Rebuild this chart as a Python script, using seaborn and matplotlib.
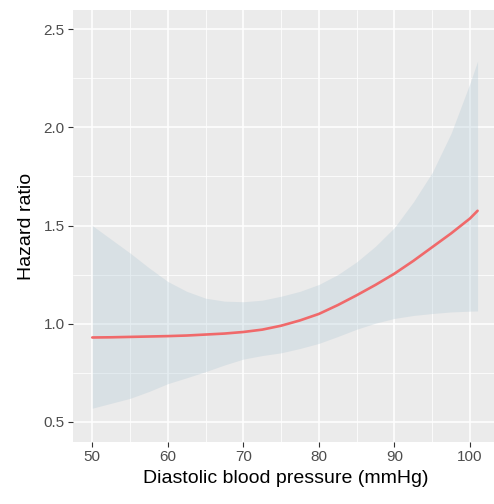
import numpy as np
import pandas as pd
import matplotlib
matplotlib.use("Agg")
import matplotlib.pyplot as plt
import seaborn as sns

# Data
dbp = [50, 52.5, 55, 57.5, 60, 62.5, 65, 67.5, 70, 72.5, 75, 77.5, 80,
       82.5, 85, 87.5, 90, 92.5, 95, 97.5, 100, 101]
hr = [0.93, 0.931, 0.933, 0.935, 0.937, 0.94, 0.945, 0.95, 0.958, 0.97,
      0.99, 1.017, 1.05, 1.095, 1.145, 1.198, 1.255, 1.32, 1.39, 1.46,
      1.536, 1.575]
hr_upper = [1.50, 1.43, 1.36, 1.285, 1.215, 1.165, 1.13, 1.115, 1.112,
            1.12, 1.14, 1.165, 1.20, 1.25, 1.315, 1.395, 1.49, 1.62, 1.77,
            1.97, 2.225, 2.337]
hr_lower = [0.57, 0.595, 0.62, 0.655, 0.695, 0.725, 0.756, 0.79, 0.82,
            0.838, 0.852, 0.874, 0.90, 0.935, 0.972, 1.003, 1.027, 1.042,
            1.052, 1.06, 1.064, 1.065]
x_ticks = [50, 60, 70, 80, 90, 100]
y_ticks = [0.5, 1.0, 1.5, 2.0, 2.5]
y_ticklabels = ["0.5", "1.0", "1.5", "2.0", "2.5"]

df = pd.DataFrame({"dbp": dbp, "hr": hr, "lo": hr_lower, "hi": hr_upper})

sns.set_theme(style="darkgrid")
plt.rcParams["font.family"] = ["Liberation Sans", "DejaVu Sans"]

fig = plt.figure(figsize=(4.94, 5.04), dpi=100)
W, H = 494, 504
left, right, top, bottom = 73, 497.6, 10, 442
ax = fig.add_axes([left / W, 1 - bottom / H, (right - left) / W, (bottom - top) / H])
ax.set_facecolor("#EBEBEB")

ax.fill_between(df["dbp"], df["lo"], df["hi"], color="#B4CAD6", alpha=0.33,
                linewidth=0, zorder=2)
sns.lineplot(data=df, x="dbp", y="hr", ax=ax, color="#F0696A", linewidth=1.9,
             zorder=3)

ax.set_xlim(47.45, 103.65)
ax.set_ylim(0.398, 2.597)
ax.set_xticks(x_ticks)
ax.set_xticklabels([str(t) for t in x_ticks])
ax.set_yticks(y_ticks)
ax.set_yticklabels(y_ticklabels)
ax.set_xticks([55, 65, 75, 85, 95], minor=True)
ax.set_yticks([0.75, 1.25, 1.75, 2.25], minor=True)

ax.grid(which="major", color="white", linewidth=1.1, zorder=1)
ax.grid(which="minor", color="white", linewidth=0.55, zorder=1)
ax.set_axisbelow(True)
for s in ax.spines.values():
    s.set_visible(False)

ax.tick_params(axis="both", which="major", length=3.5, width=0.8,
               color="#333333", labelsize=11, labelcolor="#4D4D4D", pad=2.5,
               bottom=True, left=True)
ax.tick_params(axis="both", which="minor", length=0)

ax.set_xlabel("Diastolic blood pressure (mmHg)", fontsize=14, color="black",
              labelpad=4)
ax.set_ylabel("Hazard ratio", fontsize=14, color="black", labelpad=6)

fig.savefig("out.png", dpi=100)
